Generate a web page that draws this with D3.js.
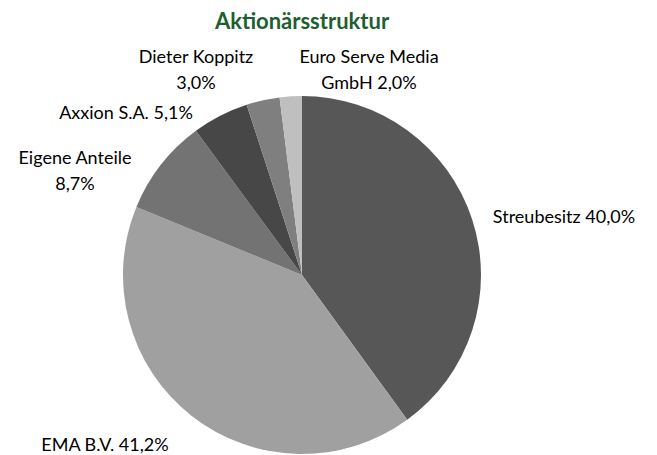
<!DOCTYPE html>
<html><head><meta charset="utf-8">
<script src="https://cdn.jsdelivr.net/npm/d3@7"></script>
<style>body{margin:0;background:#fff}svg{display:block}text{font-family:Lato,"Open Sans",sans-serif}</style>
</head><body><svg id="c" width="657" height="455"></svg>
<script>
const categories = ["Streubesitz", "EMA B.V.", "Eigene Anteile", "Axxion S.A.", "Dieter Koppitz", "Euro Serve Media GmbH"];
const values = [40.0, 41.2, 8.7, 5.1, 3.0, 2.0];
const colors = ["#575757", "#a0a0a0", "#737373", "#474747", "#7f7f7f", "#bfbfbf"];
const labelLines = [["Streubesitz 40,0%"], ["EMA B.V. 41,2%"], ["Eigene Anteile", "8,7%"], ["Axxion S.A. 5,1%"], ["Dieter Koppitz", "3,0%"], ["Euro Serve Media", "GmbH 2,0%"]];
const labelPos = [[564, 216], [105, 444], [75, 157], [126, 112], [196, 56], [369, 56]];
const title = "Aktionärsstruktur";

const svg = d3.select("#c");
const cx = 302, cy = 275, r = 179;
const fs = 18;
svg.append("text").attr("x", 302).attr("y", 20).attr("text-anchor", "middle").attr("dominant-baseline", "central")
  .attr("font-weight", "bold").attr("font-size", 22).attr("fill", "#1e5f30").text(title);

const pie = d3.pie().sort(null).value(d => d)(values);
const arc = d3.arc().innerRadius(0).outerRadius(r);
const g = svg.append("g").attr("transform", `translate(${cx},${cy})`);
g.selectAll("path").data(pie).join("path").attr("d", arc).attr("fill", (d, i) => colors[i]);

labelLines.forEach((lines, i) => {
  const t = svg.append("text").attr("text-anchor", "middle").attr("font-size", fs).attr("fill", "#000");
  lines.forEach((l, j) => t.append("tspan").attr("x", labelPos[i][0]).attr("y", labelPos[i][1] + j * 26).attr("dominant-baseline", "central").text(l));
});
</script></body></html>
